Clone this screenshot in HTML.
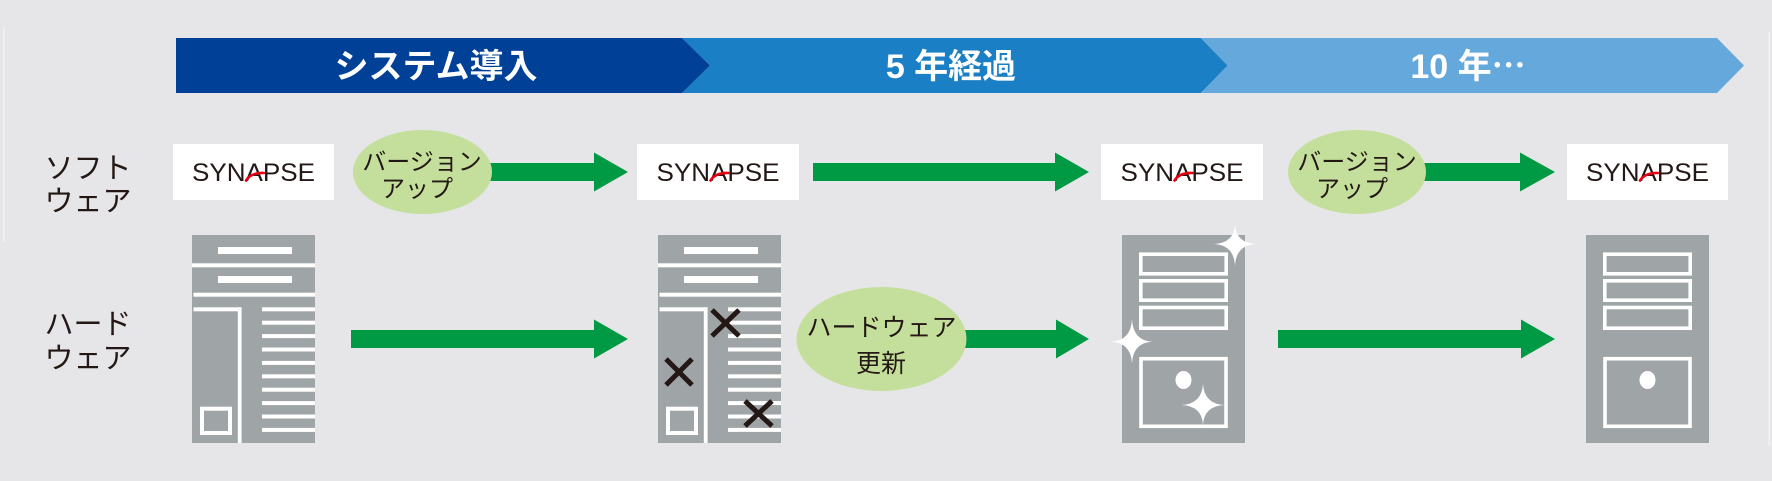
<!DOCTYPE html>
<html>
<head>
<meta charset="utf-8">
<style>
html,body{margin:0;padding:0;background:#e6e6e8;}
svg{display:block;}
.jp{font-family:"Liberation Sans","Noto Sans CJK JP",sans-serif;}
</style>
</head>
<body>
<svg width="1772" height="481" viewBox="0 0 1772 481" xmlns="http://www.w3.org/2000/svg">
  <rect x="0" y="0" width="1772" height="481" fill="#e6e6e8"/>
  <!-- faint frame lines -->
  <rect x="3" y="27" width="1.5" height="215" fill="#f2f2f3"/>
  <rect x="1768.5" y="32" width="1.5" height="414" fill="#f2f2f3"/>

  <!-- Banner -->
  <polygon points="1200,38 1717,38 1744,65.5 1717,93 1200,93 1227.5,65.5" fill="#64a8dc"/>
  <polygon points="682,38 1200.5,38 1227.5,65.5 1200.5,93 682,93 710,65.5" fill="#1b7fc6"/>
  <polygon points="176,38 682,38 710,65.5 682,93 176,93" fill="#004097"/>
  <g class="jp" fill="#ffffff" font-size="34" font-weight="bold" text-anchor="middle">
    <text x="436" y="78">システム導入</text>
    <text x="951" y="78">5 年経過</text>
    <text x="1468" y="78">10 年<tspan font-family="'Noto Sans CJK JP',sans-serif">…</tspan></text>
  </g>

  <!-- Row labels -->
  <g class="jp" fill="#231815" font-size="29" text-anchor="middle">
    <text x="88" y="178">ソフト</text>
    <text x="88" y="211">ウェア</text>
    <text x="88" y="334">ハード</text>
    <text x="88" y="368">ウェア</text>
  </g>

  <!-- SYNAPSE boxes -->
  <g>
    <rect x="173" y="144" width="161" height="56" fill="#ffffff"/>
    <rect x="637" y="144" width="162" height="56" fill="#ffffff"/>
    <rect x="1101" y="144" width="162" height="56" fill="#ffffff"/>
    <rect x="1567" y="144" width="161" height="56" fill="#ffffff"/>
  </g>
  <g font-family="'Liberation Sans',sans-serif" font-size="25" fill="#231815" text-anchor="middle">
    <text x="253.5" y="181" textLength="123" lengthAdjust="spacingAndGlyphs">SYNAPSE</text>
    <text x="718" y="181" textLength="123" lengthAdjust="spacingAndGlyphs">SYNAPSE</text>
    <text x="1182" y="181" textLength="123" lengthAdjust="spacingAndGlyphs">SYNAPSE</text>
    <text x="1647.5" y="181" textLength="123" lengthAdjust="spacingAndGlyphs">SYNAPSE</text>
  </g>
  <g fill="none" stroke="#e60012" stroke-width="2.6" stroke-linecap="round">
    <path d="M246,180.5 Q251,172.5 264,173"/>
    <path d="M710.5,180.5 Q715.5,172.5 728.5,173"/>
    <path d="M1174.5,180.5 Q1179.5,172.5 1192.5,173"/>
    <path d="M1640,180.5 Q1645,172.5 1658,173"/>
  </g>

  <!-- Arrows -->
  <g fill="#009944">
    <polygon points="480,163 594,163 594,152.5 628,172 594,191.5 594,181 480,181"/>
    <polygon points="813,163 1055,163 1055,152.5 1089,172 1055,191.5 1055,181 813,181"/>
    <polygon points="1410,163 1520,163 1520,152.5 1555,172 1520,191.5 1520,181 1410,181"/>
    <polygon points="351,330 594,330 594,319.5 628,339 594,358.5 594,348 351,348"/>
    <polygon points="950,330 1056,330 1056,319.5 1089,339 1056,358.5 1056,348 950,348"/>
    <polygon points="1278,330 1521,330 1521,319.5 1555,339 1521,358.5 1521,348 1278,348"/>
  </g>

  <!-- Ellipses -->
  <g fill="#c4df9b">
    <ellipse cx="422.5" cy="172" rx="69.5" ry="42"/>
    <ellipse cx="1357" cy="172" rx="69" ry="42"/>
    <ellipse cx="881.5" cy="339" rx="85" ry="52"/>
  </g>
  <g class="jp" fill="#231815" font-size="24" text-anchor="middle">
    <text x="422" y="170">バージョン</text>
    <text x="417" y="197">アップ</text>
    <text x="1357" y="170">バージョン</text>
    <text x="1352" y="197">アップ</text>
  </g>
  <g class="jp" fill="#231815" font-size="25" text-anchor="middle">
    <text x="881.5" y="336">ハードウェア</text>
    <text x="881" y="372">更新</text>
  </g>

  <defs>
    <g id="oldsrv">
      <rect x="0" y="0" width="123" height="208" fill="#9fa4a7"/>
      <g fill="#ffffff">
        <rect x="26" y="12" width="74" height="7"/>
        <rect x="0" y="28.3" width="123" height="4"/>
        <rect x="26" y="41" width="74" height="7"/>
        <rect x="1.5" y="57.7" width="121.5" height="4"/>
        <rect x="1.5" y="72.3" width="48" height="4"/>
        <rect x="45.8" y="72.3" width="3.8" height="135.7"/>
        <rect x="70" y="72.3" width="53" height="4"/>
        <rect x="70" y="85.7" width="53" height="4"/>
        <rect x="70" y="99.1" width="53" height="4"/>
        <rect x="70" y="112.5" width="53" height="4"/>
        <rect x="70" y="125.9" width="53" height="4"/>
        <rect x="70" y="139.3" width="53" height="4"/>
        <rect x="70" y="152.7" width="53" height="4"/>
        <rect x="70" y="166.1" width="53" height="4"/>
        <rect x="70" y="179.5" width="53" height="4"/>
        <rect x="70" y="192.9" width="53" height="4"/>
      </g>
      <rect x="10" y="173.7" width="28" height="24.3" fill="none" stroke="#ffffff" stroke-width="4"/>
    </g>
    <g id="newsrv">
      <rect x="0" y="0" width="123" height="208" fill="#9fa4a7"/>
      <g fill="none" stroke="#ffffff" stroke-width="3.6">
        <rect x="18.8" y="19.2" width="85.4" height="19.6"/>
        <rect x="18.8" y="45.8" width="85.4" height="19.4"/>
        <rect x="18.8" y="72.5" width="85.4" height="20.7"/>
        <rect x="19" y="123.7" width="85" height="67.6"/>
      </g>
      <ellipse cx="61.5" cy="145" rx="8" ry="9" fill="#ffffff"/>
    </g>
  </defs>

  <use href="#oldsrv" x="192" y="235"/>
  <use href="#oldsrv" x="658" y="235"/>
  <use href="#newsrv" x="1122" y="235"/>
  <use href="#newsrv" x="1586" y="235"/>

  <!-- X marks -->
  <g stroke="#231815" stroke-width="5" stroke-linecap="butt">
    <line x1="712" y1="310" x2="739" y2="336"/>
    <line x1="739" y1="310" x2="712" y2="336"/>
    <line x1="666" y1="359" x2="692" y2="385"/>
    <line x1="692" y1="359" x2="666" y2="385"/>
    <line x1="745" y1="401" x2="772" y2="426"/>
    <line x1="772" y1="401" x2="745" y2="426"/>
  </g>

  <!-- Sparkles -->
  <g fill="#ffffff">
    <path d="M1235,224.5 Q1236,243 1256,244 Q1236,245 1235,266 Q1234,245 1214,244 Q1234,243 1235,224.5 Z"/>
    <path d="M1132,319 Q1133,340.7 1152.5,341.7 Q1133,342.7 1132,363.5 Q1131,342.7 1111,341.7 Q1131,340.7 1132,319 Z"/>
    <path d="M1203,383.5 Q1204,404 1224.5,405 Q1204,406 1203,425 Q1202,406 1181.5,405 Q1202,404 1203,383.5 Z"/>
  </g>
</svg>
</body>
</html>
